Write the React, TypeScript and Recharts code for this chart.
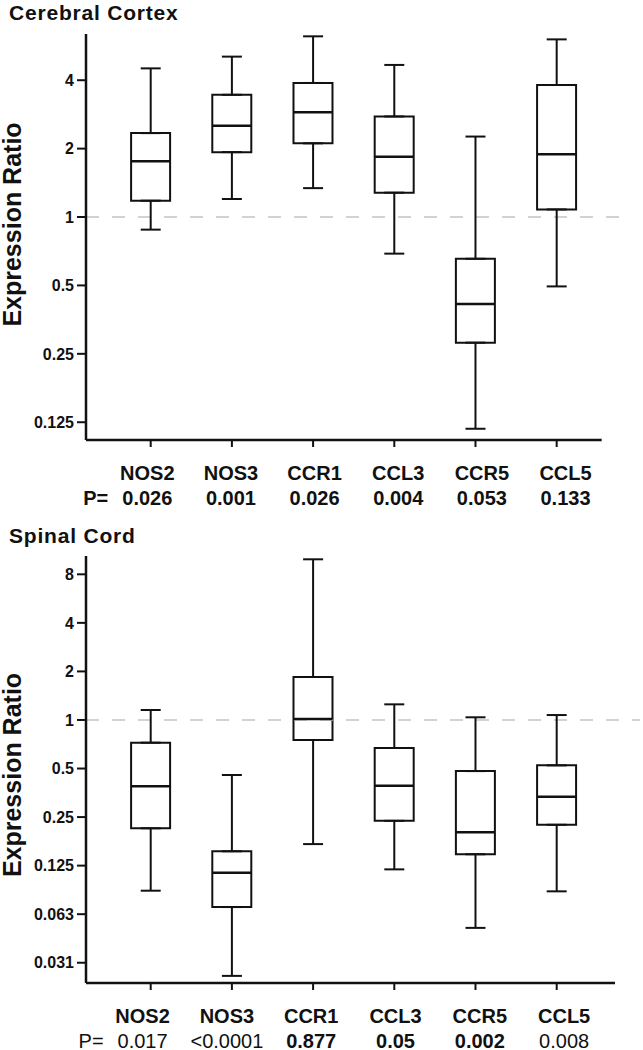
import React from 'react';
import { ComposedChart, Bar, Scatter, ErrorBar, XAxis, YAxis, ReferenceLine } from 'recharts';

// ---------- data ----------
const categories = ['NOS2', 'NOS3', 'CCR1', 'CCL3', 'CCR5', 'CCL5'];

const cortexMin = [0.88, 1.2, 1.34, 0.69, 0.117, 0.495];
const cortexQ1 = [1.18, 1.93, 2.11, 1.28, 0.28, 1.08];
const cortexMedian = [1.76, 2.52, 2.89, 1.84, 0.414, 1.89];
const cortexQ3 = [2.34, 3.45, 3.89, 2.77, 0.655, 3.81];
const cortexMax = [4.51, 5.08, 6.24, 4.67, 2.26, 6.05];
const cortexP = ['0.026', '0.001', '0.026', '0.004', '0.053', '0.133'];

const spinalMin = [0.0874, 0.0259, 0.17, 0.1185, 0.0514, 0.0866];
const spinalQ1 = [0.213, 0.0692, 0.751, 0.237, 0.147, 0.224];
const spinalMedian = [0.388, 0.1131, 1.014, 0.391, 0.201, 0.334];
const spinalQ3 = [0.723, 0.1534, 1.846, 0.67, 0.482, 0.523];
const spinalMax = [1.153, 0.456, 9.91, 1.25, 1.039, 1.073];
const spinalP = ['0.017', '<0.0001', '0.877', '0.05', '0.002', '0.008'];

const cortexTicks = [0.125, 0.25, 0.5, 1, 2, 4];
const cortexTickLabels = ['0.125', '0.25', '0.5', '1', '2', '4'];
const spinalTicks = [0.03125, 0.0625, 0.125, 0.25, 0.5, 1, 2, 4, 8];
const spinalTickLabels = ['0.031', '0.063', '0.125', '0.25', '0.5', '1', '2', '4', '8'];

const categoryPositions = [1, 2, 3, 4, 5, 6];

// ---------- styles ----------
const FONT = '"Liberation Sans", Arial, Helvetica, sans-serif';
const INK = '#111';
const cortexPWeights = ['bold', 'bold', 'bold', 'bold', 'bold', 'bold'];
const spinalPWeights = ['normal', 'normal', 'bold', 'bold', 'bold', 'normal'];

function buildRows(min: number[], q1: number[], med: number[], q3: number[], max: number[]) {
  return categories.map((name, i) => ({
    pos: categoryPositions[i],
    name,
    box: [q1[i], q3[i]],
    q1: q1[i],
    q3: q3[i],
    med: med[i],
    upperErr: [0, max[i] - q3[i]],
    lowerErr: [q1[i] - min[i], 0],
  }));
}

const cortexRows = buildRows(cortexMin, cortexQ1, cortexMedian, cortexQ3, cortexMax);
const spinalRows = buildRows(spinalMin, spinalQ1, spinalMedian, spinalQ3, spinalMax);

const MedianShape = (props: any) => {
  const { cx, cy } = props;
  if (cx == null || cy == null) return <g />;
  return <line x1={cx - 19.5} x2={cx + 19.5} y1={cy} y2={cy} stroke={INK} strokeWidth={2.5} />;
};

const Empty = () => <g />;

type ChartProps = {
  rows: any[];
  height: number;
  margin: any;
  yDomain: [number, number];
  ticks: number[];
  tickLabels: string[];
  xDomain: [number, number];
  axisEnd: number;
  xAxisHeight: number;
  labelShift0: number;
  labelShiftStep: number;
  pvals: string[];
  pWeights: string[];
  yLabelShift: number;
};

function BoxChart(p: ChartProps) {
  const renderCategoryTick = (props: any) => {
    const { x, y, payload } = props;
    const i = categoryPositions.indexOf(payload.value);
    if (i < 0) return <g />;
    const lx = x + p.labelShift0 + p.labelShiftStep * i;
    return (
      <g>
        <text x={lx} y={y + 33} textAnchor="middle" fontFamily={FONT} fontSize={20} fontWeight="bold" fill={INK}>
          {categories[i]}
        </text>
        <text x={lx} y={y + 58} textAnchor="middle" fontFamily={FONT} fontSize={20} fontWeight={p.pWeights[i]} fill={INK}>
          {p.pvals[i]}
        </text>
        {i === 0 ? (
          <text x={lx - 39} y={y + 58} textAnchor="end" fontFamily={FONT} fontSize={20} fontWeight={p.pWeights[i]} fill={INK}>
            P=
          </text>
        ) : null}
      </g>
    );
  };

  const renderYLabel = (props: any) => {
    const vb = props.viewBox || {};
    const lx = (vb.x || 0) + 21;
    const ly = (vb.y || 0) + (vb.height || 0) / 2 + p.yLabelShift;
    return (
      <text
        x={lx}
        y={ly}
        transform={`rotate(-90, ${lx}, ${ly})`}
        textAnchor="middle"
        fontFamily={FONT}
        fontSize={25}
        fontWeight="bold"
        fill={INK}
      >
        Expression Ratio
      </text>
    );
  };

  return (
    <ComposedChart width={643} height={p.height} data={p.rows} margin={p.margin}>
      <XAxis
        dataKey="pos"
        type="number"
        domain={p.xDomain}
        allowDataOverflow
        ticks={categoryPositions}
        interval={0}
        axisLine={false}
        tickLine={{ stroke: INK, strokeWidth: 2 }}
        tickSize={7}
        tickMargin={0}
        tick={renderCategoryTick}
        height={p.xAxisHeight}
      />
      <YAxis
        scale="log"
        type="number"
        domain={p.yDomain}
        allowDataOverflow
        ticks={p.ticks}
        interval={0}
        tickFormatter={(v: number) => p.tickLabels[p.ticks.indexOf(v)] ?? ''}
        width={86}
        tickSize={9}
        tickMargin={3}
        axisLine={{ stroke: INK, strokeWidth: 2.5 }}
        tickLine={{ stroke: INK, strokeWidth: 2 }}
        tick={{ fill: INK, fontSize: 16, fontWeight: 'bold', fontFamily: FONT }}
        label={renderYLabel}
      />
      <ReferenceLine y={1} stroke="#c4c4c4" strokeWidth={1.6} strokeDasharray="13 13" />
      <ReferenceLine
        segment={[
          { x: p.xDomain[0], y: p.yDomain[0] },
          { x: p.axisEnd, y: p.yDomain[0] },
        ]}
        stroke={INK}
        strokeWidth={2.5}
        ifOverflow="visible"
      />
      <Scatter dataKey="q3" shape={Empty} isAnimationActive={false}>
        <ErrorBar dataKey="upperErr" direction="y" width={10} stroke={INK} strokeWidth={2} isAnimationActive={false} />
      </Scatter>
      <Scatter dataKey="q1" shape={Empty} isAnimationActive={false}>
        <ErrorBar dataKey="lowerErr" direction="y" width={10} stroke={INK} strokeWidth={2} isAnimationActive={false} />
      </Scatter>
      <Bar dataKey="box" barSize={39} fill="none" stroke={INK} strokeWidth={2} isAnimationActive={false} />
      <Scatter dataKey="med" shape={MedianShape} isAnimationActive={false} />
    </ComposedChart>
  );
}

export default function App() {
  return (
    <div style={{ position: 'absolute', left: 0, top: 0, width: 643, height: 1050, background: '#fff', overflow: 'hidden' }}>
      <div style={{ position: 'absolute', left: 0, top: 0 }}>
        <BoxChart
          rows={cortexRows}
          height={520}
          margin={{ top: 34, right: 16, bottom: 0, left: 0 }}
          yDomain={[0.1044, 6.389]}
          ticks={cortexTicks}
          tickLabels={cortexTickLabels}
          xDomain={[0.2032, 6.866]}
          axisEnd={6.554}
          xAxisHeight={80}
          labelShift0={-3.4}
          labelShiftStep={2.45}
          pvals={cortexP}
          pWeights={cortexPWeights}
          yLabelShift={-12.5}
        />
      </div>
      <div style={{ position: 'absolute', left: 0, top: 520 }}>
        <BoxChart
          rows={spinalRows}
          height={530}
          margin={{ top: 36, right: 3, bottom: 0, left: 0 }}
          yDomain={[0.0234, 10.39]}
          ticks={spinalTicks}
          tickLabels={spinalTickLabels}
          xDomain={[0.2032, 7.026]}
          axisEnd={6.718}
          xAxisHeight={67}
          labelShift0={-8.1}
          labelShiftStep={3.11}
          pvals={spinalP}
          pWeights={spinalPWeights}
          yLabelShift={5.5}
        />
      </div>
      <svg width={643} height={1050} style={{ position: 'absolute', left: 0, top: 0, pointerEvents: 'none' }}>
        <text x={9} y={19.5} fontFamily={FONT} fontSize={21} fontWeight="bold" letterSpacing={0.8} fill={INK}>
          Cerebral Cortex
        </text>
        <text x={9} y={542.7} fontFamily={FONT} fontSize={21} fontWeight="bold" letterSpacing={0.8} fill={INK}>
          Spinal Cord
        </text>
      </svg>
    </div>
  );
}
